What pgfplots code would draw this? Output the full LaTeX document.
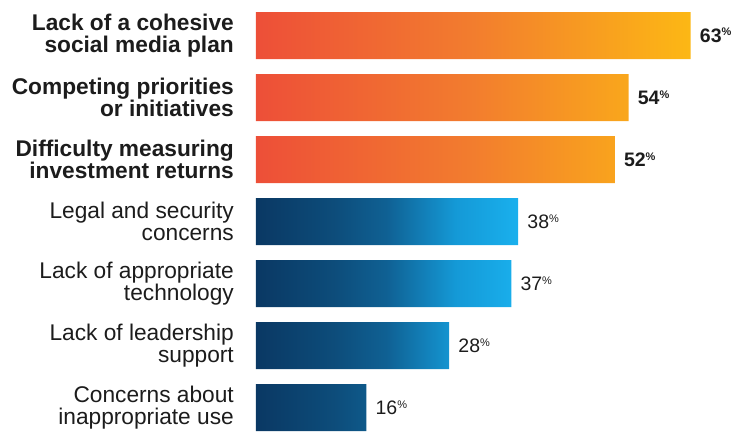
\documentclass[border=0pt]{standalone}
\usepackage{pgfplots}
\pgfplotsset{compat=1.18}
\usepackage{fontspec}
\setmainfont{Liberation Sans}
\definecolor{labelgray}{HTML}{1C1C1C}
\pgfdeclarehorizontalshading{orangegrad}{100bp}{rgb(0bp)=(0.93,0.31,0.22); rgb(25bp)=(0.93,0.31,0.22); rgb(50bp)=(0.95,0.49,0.18); rgb(75bp)=(0.99,0.72,0.08); rgb(100bp)=(0.99,0.72,0.08)}
\pgfdeclarehorizontalshading{bluegrad}{100bp}{rgb(0bp)=(0.04,0.22,0.39); rgb(25bp)=(0.04,0.22,0.39); rgb(40bp)=(0.05,0.30,0.48); rgb(50bp)=(0.06,0.38,0.58); rgb(63bp)=(0.08,0.60,0.84); rgb(75bp)=(0.10,0.69,0.93); rgb(100bp)=(0.10,0.69,0.93)}
\begin{document}
\begin{tikzpicture}
\useasboundingbox (-256pt,0pt) rectangle (486pt,434pt);
\begin{axis}[
  at={(0pt,0pt)}, anchor=south west,
  scale only axis, width=486pt, height=434pt,
  xmin=0, xmax=70.43, ymin=-0.573, ymax=6.427, y dir=reverse,
  axis line style={draw=none}, major tick length=0pt,
  xtick=\empty, ytick={0,1,2,3,4,5,6},
  /pgf/number format/assume math mode=true,
  yticklabels={
    {\bfseries Lack of a cohesive\\\bfseries social media plan},
    {\bfseries Competing priorities\\\bfseries or initiatives},
    {\bfseries Difficulty measuring\\\bfseries investment returns},
    {Legal and security\\concerns},
    {Lack of appropriate\\technology},
    {Lack of leadership\\support},
    {Concerns about\\inappropriate use}},
  yticklabel style={align=right, anchor=east, inner sep=0pt, xshift=-22pt,
    font=\fontsize{22.7}{22}\selectfont, text=labelgray},
  xbar, bar width=47pt, bar shift=0pt, clip=false,
  nodes near coords={\pgfmathprintnumber{\pgfplotspointmeta}\raisebox{6.5pt}{\fontsize{11}{11}\selectfont\%}},
  nodes near coords style={anchor=west, inner sep=0pt, xshift=9pt, text=labelgray},
]
\addplot[xbar, draw=none, shade, shading=orangegrad,
  every node near coord/.append style={font=\bfseries\fontsize{19.5}{19.5}\selectfont}]
  coordinates {(63,0) (54,1) (52,2)};
\addplot[xbar, draw=none, shade, shading=bluegrad,
  every node near coord/.append style={font=\fontsize{19.5}{19.5}\selectfont}]
  coordinates {(38,3) (37,4) (28,5) (16,6)};
\end{axis}
\end{tikzpicture}
\end{document}
